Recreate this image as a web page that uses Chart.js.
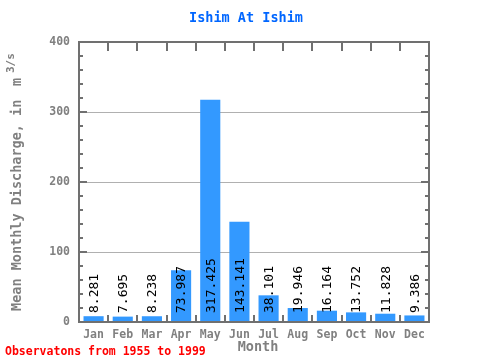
<!DOCTYPE html>
<html>
<head>
<meta charset="utf-8">
<script src="https://cdn.jsdelivr.net/npm/chart.js@4/dist/chart.umd.min.js"></script>
<style>
  html,body{margin:0;padding:0;background:#fff;}
  canvas{display:block;}
</style>
</head>
<body>
<canvas id="chart" width="480" height="360"></canvas>
<script>
const months = ['Jan','Feb','Mar','Apr','May','Jun','Jul','Aug','Sep','Oct','Nov','Dec'];
const discharge = [8.281, 7.695, 8.238, 73.987, 317.425, 143.141, 38.101, 19.946, 16.164, 13.752, 11.828, 9.386];
const yMin = 0, yMax = 400, yStep = 100, yMinorStep = 20;

const MONO = '"DejaVu Sans Mono", monospace';
const frameColor = '#707070';
const textGray = '#808080';

const decor = {
  id: 'decor',
  afterDatasetsDraw(chart){
    const {ctx, chartArea:a, scales:{x, y}} = chart;
    ctx.save();
    // value labels inside bars
    const meta = chart.getDatasetMeta(0);
    ctx.fillStyle = '#000';
    ctx.font = '13px ' + MONO;
    ctx.textAlign = 'left';
    ctx.textBaseline = 'middle';
    meta.data.forEach((el,i)=>{
      ctx.save();
      ctx.translate(el.x + 1, a.bottom - 9);
      ctx.rotate(-Math.PI/2);
      ctx.fillText(discharge[i].toFixed(3), 0, 0);
      ctx.restore();
    });
    // frame
    ctx.strokeStyle = frameColor;
    ctx.lineWidth = 2;
    ctx.strokeRect(a.left, a.top, a.right - a.left, a.bottom - a.top);
    // left / right minor and major ticks
    for(let v = yMin + yMinorStep; v <= yMax; v += yMinorStep){
      const py = Math.round(y.getPixelForValue(v));
      const len = v % yStep === 0 ? 8 : 4;
      ctx.beginPath();
      ctx.moveTo(a.left, py); ctx.lineTo(a.left + len, py);
      ctx.moveTo(a.right, py); ctx.lineTo(a.right - len, py);
      ctx.stroke();
    }
    // top and bottom ticks at category boundaries
    const half = (x.getPixelForValue(1) - x.getPixelForValue(0)) / 2;
    for(let i = 1; i < months.length; i++){
      const px = Math.round(x.getPixelForValue(i) - half);
      ctx.beginPath();
      ctx.moveTo(px, a.top); ctx.lineTo(px, a.top + 9);
      ctx.moveTo(px, a.bottom); ctx.lineTo(px, a.bottom - 7);
      ctx.stroke();
    }
    ctx.restore();
  },
  afterDraw(chart){
    const {ctx} = chart;
    ctx.save();
    // title
    ctx.fillStyle = '#0066ff';
    ctx.font = 'bold 13.5px ' + MONO;
    ctx.textAlign = 'center';
    ctx.textBaseline = 'middle';
    ctx.fillText('Ishim At Ishim', 246, 18);
    // x title
    ctx.fillStyle = textGray;
    ctx.font = 'bold 13.5px ' + MONO;
    ctx.fillText('Month', 258, 347);
    // footer
    ctx.fillStyle = '#ff0000';
    ctx.font = 'bold 11.5px ' + MONO;
    ctx.textAlign = 'left';
    ctx.fillText('Observatons from 1955 to 1999', 5, 352);
    // y title
    ctx.translate(17, 311);
    ctx.rotate(-Math.PI/2);
    ctx.fillStyle = textGray;
    ctx.font = 'bold 13.5px ' + MONO;
    ctx.textBaseline = 'middle';
    ctx.fillText('Mean Monthly Discharge, in', 0, 0);
    ctx.fillText('m', 225, 0);
    ctx.font = 'bold 11px ' + MONO;
    ctx.fillText('3/s', 238, -6);
    ctx.restore();
  }
};

new Chart(document.getElementById('chart'), {
  type: 'bar',
  data: {
    labels: months,
    datasets: [{
      data: discharge,
      backgroundColor: '#3399ff',
      borderWidth: 0,
      barPercentage: 0.69,
      categoryPercentage: 1
    }]
  },
  options: {
    responsive: false,
    animation: false,
    layout: {padding: {top: 42, right: 51, left: 0, bottom: 0}},
    plugins: {legend: {display: false}, tooltip: {enabled: false}, title: {display: false}},
    scales: {
      x: {
        offset: true,
        grid: {display: false, drawTicks: false},
        border: {display: false},
        ticks: {color: textGray, font: {family: MONO, size: 11.5, weight: 'bold'}, padding: 6, maxRotation: 0, autoSkip: false},
        afterFit: s => { s.height = 38; }
      },
      y: {
        min: yMin, max: yMax,
        border: {display: false},
        grid: {
          drawTicks: false,
          color: c => (c.tick && c.tick.value > yMin && c.tick.value < yMax) ? '#b0b0b0' : 'rgba(0,0,0,0)',
          lineWidth: 1
        },
        ticks: {stepSize: yStep, color: textGray, font: {family: MONO, size: 11.5, weight: 'bold'}, padding: 9},
        afterFit: s => { s.width = 79; }
      }
    }
  },
  plugins: [decor]
});
</script>
</body>
</html>
